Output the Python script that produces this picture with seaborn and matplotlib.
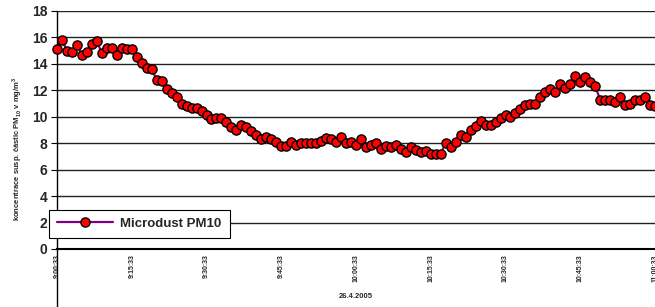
import matplotlib
matplotlib.use("Agg")
import matplotlib.pyplot as plt
import numpy as np
import pandas as pd
import seaborn as sns

# PM10 concentration, one reading per minute from 9:00:33 (26.4.2005)
pm10 = [
    15.1, 15.8, 15.0, 14.9, 15.4, 14.7, 14.9, 15.5, 15.7, 14.8,
    15.2, 15.2, 14.7, 15.2, 15.1, 15.1, 14.5, 14.1, 13.7, 13.6,
    12.8, 12.7, 12.1, 11.8, 11.5, 11.0, 10.8, 10.7, 10.7, 10.4,
    10.1, 9.8, 9.9, 9.9, 9.6, 9.2, 9.0, 9.4, 9.2, 8.9,
    8.6, 8.3, 8.5, 8.3, 8.1, 7.8, 7.8, 8.1, 7.9, 8.0,
    8.0, 8.0, 8.0, 8.2, 8.4, 8.3, 8.1, 8.5, 8.0, 8.1,
    7.9, 8.3, 7.7, 7.9, 8.0, 7.6, 7.8, 7.7, 7.9, 7.6,
    7.3, 7.7, 7.5, 7.3, 7.4, 7.2, 7.2, 7.2, 8.0, 7.7,
    8.1, 8.6, 8.5, 9.0, 9.3, 9.7, 9.4, 9.4, 9.6, 9.9,
    10.1, 10.0, 10.3, 10.6, 10.9, 11.0, 11.0, 11.5, 11.9, 12.1,
    11.9, 12.5, 12.2, 12.5, 13.1, 12.6, 13.0, 12.6, 12.3, 11.3,
    11.3, 11.3, 11.1, 11.5, 10.9, 11.0, 11.3, 11.3, 11.5, 10.9,
    10.8,
]
tick_labels = ["9:00:33", "9:15:33", "9:30:33", "9:45:33", "10:00:33",
               "10:15:33", "10:30:33", "10:45:33", "11:00:33"]
series_name = "Microdust PM10"
date_label = "26.4.2005"

df = pd.DataFrame({"minute": np.arange(len(pm10)), "pm10": pm10})

sns.set_theme(style="white")
plt.rcParams["font.family"] = ["Liberation Sans", "DejaVu Sans"]
plt.rcParams["mathtext.fontset"] = "custom"
plt.rcParams["mathtext.rm"] = "Liberation Sans"

fig = plt.figure(figsize=(6.55, 3.07), dpi=100)
ax = fig.add_axes([57 / 655, 58 / 307, 598 / 655, 238 / 307])

sns.lineplot(
    data=df, x="minute", y="pm10", ax=ax,
    color="#800080", linewidth=1.6,
    marker="o", markersize=6.6, markerfacecolor="red",
    markeredgecolor="black", markeredgewidth=1.0,
    label=series_name, clip_on=False, zorder=3,
)

ax.set_xlim(0, len(pm10) - 1)
ax.set_ylim(0, 18)
ax.set_yticks(range(0, 19, 2))
ax.set_xticks(range(0, len(pm10), 15))
ax.set_xticklabels(tick_labels, rotation=90, fontsize=5, fontweight="bold")
ax.tick_params(axis="x", length=0, pad=4)
ax.tick_params(axis="y", which="major", direction="out", length=4, width=0.8,
               color="black", labelsize=10, pad=3, left=True)
for t in ax.get_yticklabels():
    t.set_fontweight("bold")

ax.yaxis.grid(True, color="#222222", linewidth=1.0)
ax.xaxis.grid(False)
ax.set_axisbelow(True)

for side in ["top", "right"]:
    ax.spines[side].set_visible(False)
ax.spines["bottom"].set_color("black")
ax.spines["bottom"].set_linewidth(1.5)
ax.spines["left"].set_color("black")
ax.spines["left"].set_linewidth(1.0)
# value axis line runs on below the category axis, as in the original
ax.plot([0, 0], [-0.26, 0], transform=ax.transAxes, color="black",
        linewidth=1.0, clip_on=False)

ax.set_xlabel(date_label, fontsize=5.5, fontweight="bold", labelpad=8)
ax.set_ylabel(r"koncentrace susp. částic PM$_{\mathregular{10}}$ v mg/m$^{\mathregular{3}}$",
              fontsize=5.5, fontweight="bold")
ax.yaxis.set_label_coords(-0.056, 0.42)

leg = ax.legend(loc="lower left", bbox_to_anchor=(-0.024, 0.02), frameon=True,
                fancybox=False, framealpha=1, edgecolor="black", handlelength=4.2,
                borderpad=0.6, handletextpad=0.6,
                prop={"weight": "bold", "size": 9.5})
leg.get_frame().set_linewidth(0.8)

fig.savefig("out.png", dpi=100, facecolor="white")
plt.close(fig)
